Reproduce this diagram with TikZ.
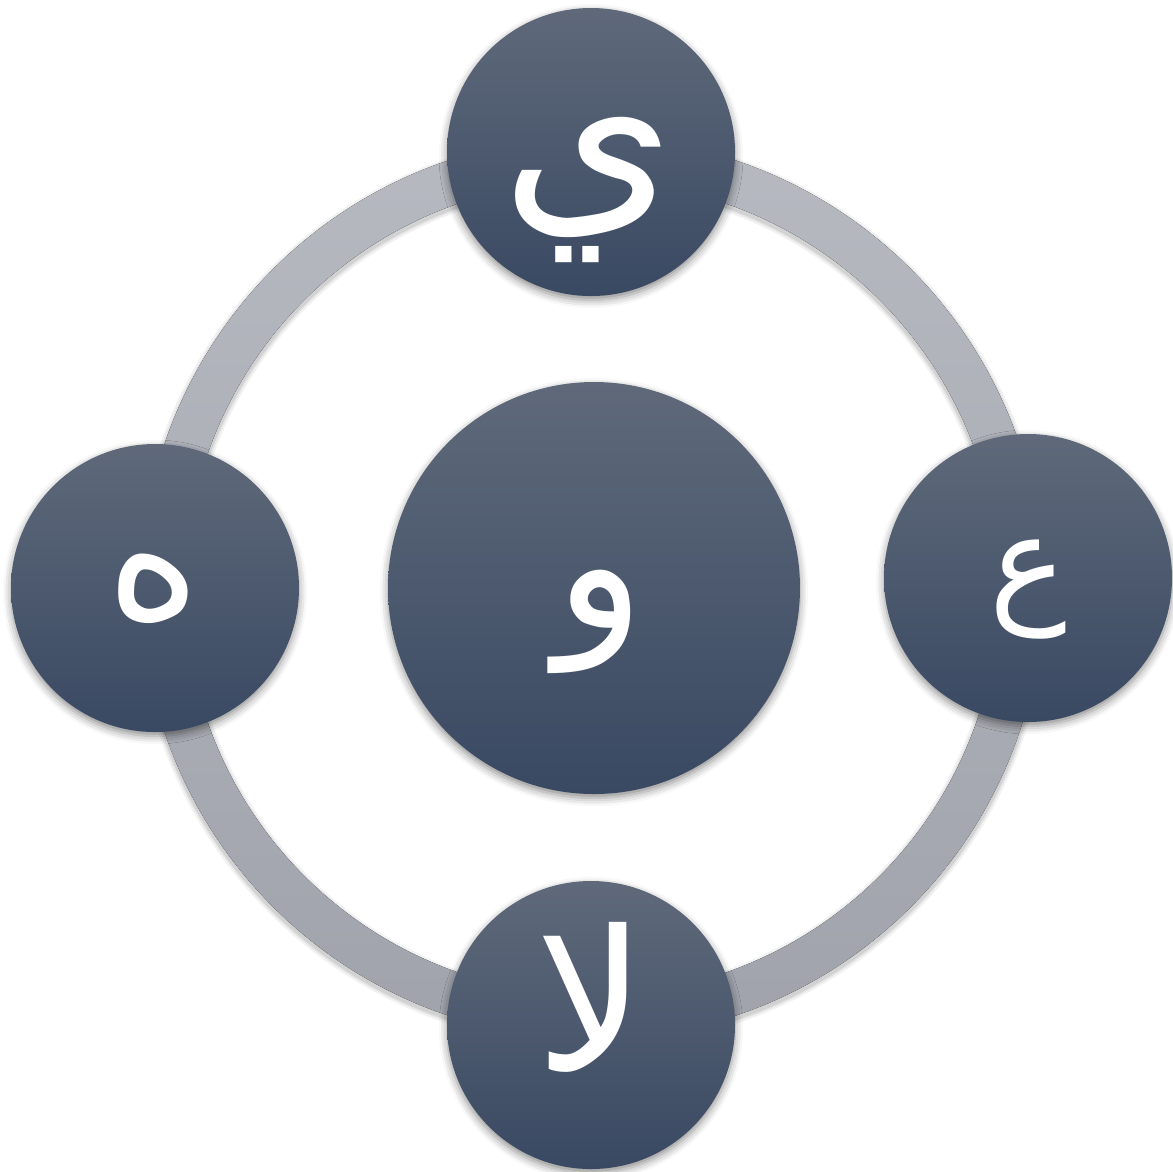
\documentclass[tikz,border=0pt]{standalone}
\usepackage{fontspec}
\newfontfamily\arabicfont[Script=Arabic]{DejaVu Sans}
\TeXXeTstate=1
\usetikzlibrary{shadows.blur}
\definecolor{ctop}{RGB}{95,105,122}
\definecolor{cbot}{RGB}{57,73,98}
\definecolor{rtop}{RGB}{182,185,192}
\definecolor{rbot}{RGB}{160,163,171}
\begin{document}
\begin{tikzpicture}[x=1pt,y=-1pt,
  disc/.style={circle, inner sep=0pt, top color=ctop, bottom color=cbot,
    blur shadow={shadow xshift=0pt, shadow yshift=-4pt, shadow blur radius=8pt, shadow opacity=45}},
  smalldisc/.style={disc, minimum size=288pt},
  bigdisc/.style={disc, minimum size=412pt},
  letter/.style={inner sep=0pt, text=white, font=\arabicfont\fontsize{#1}{#1}\selectfont},
  ringshadow/.style={draw=black, opacity=#1}]
\useasboundingbox (0,0) rectangle (1173,1171);
\coordinate (c) at (592,588);
\coordinate (cs) at (592,591);
% soft shadow of the ring
\draw[ringshadow=0.05, line width=54pt] (cs) circle[radius=429];
\draw[ringshadow=0.06, line width=50pt] (cs) circle[radius=429];
\draw[ringshadow=0.08, line width=47pt] (cs) circle[radius=429];
% ring
\fill[top color=rtop, bottom color=rbot, even odd rule]
  (c) circle[radius=451] (c) circle[radius=407];
\node[smalldisc] (top) at (591,152) {};
\node[smalldisc] (left) at (155,588) {};
\node[smalldisc] (right) at (1028,578) {};
\node[smalldisc] (bottom) at (591,1025) {};
\node[bigdisc] (mid) at (594,588) {};
\node[letter=222] (ltop) at (588,190) {\beginR ي\endR};
\node[letter=180] (lleft) at (154,589) {\beginR ه\endR};
\node[letter=185] (lmid) at (600,622) {\beginR و\endR};
\node[letter=130] (lright) at (1028,590) {\beginR ع\endR};
\node[letter=195] (lbottom) at (591,997) {\beginR لا\endR};
\end{tikzpicture}
\end{document}
